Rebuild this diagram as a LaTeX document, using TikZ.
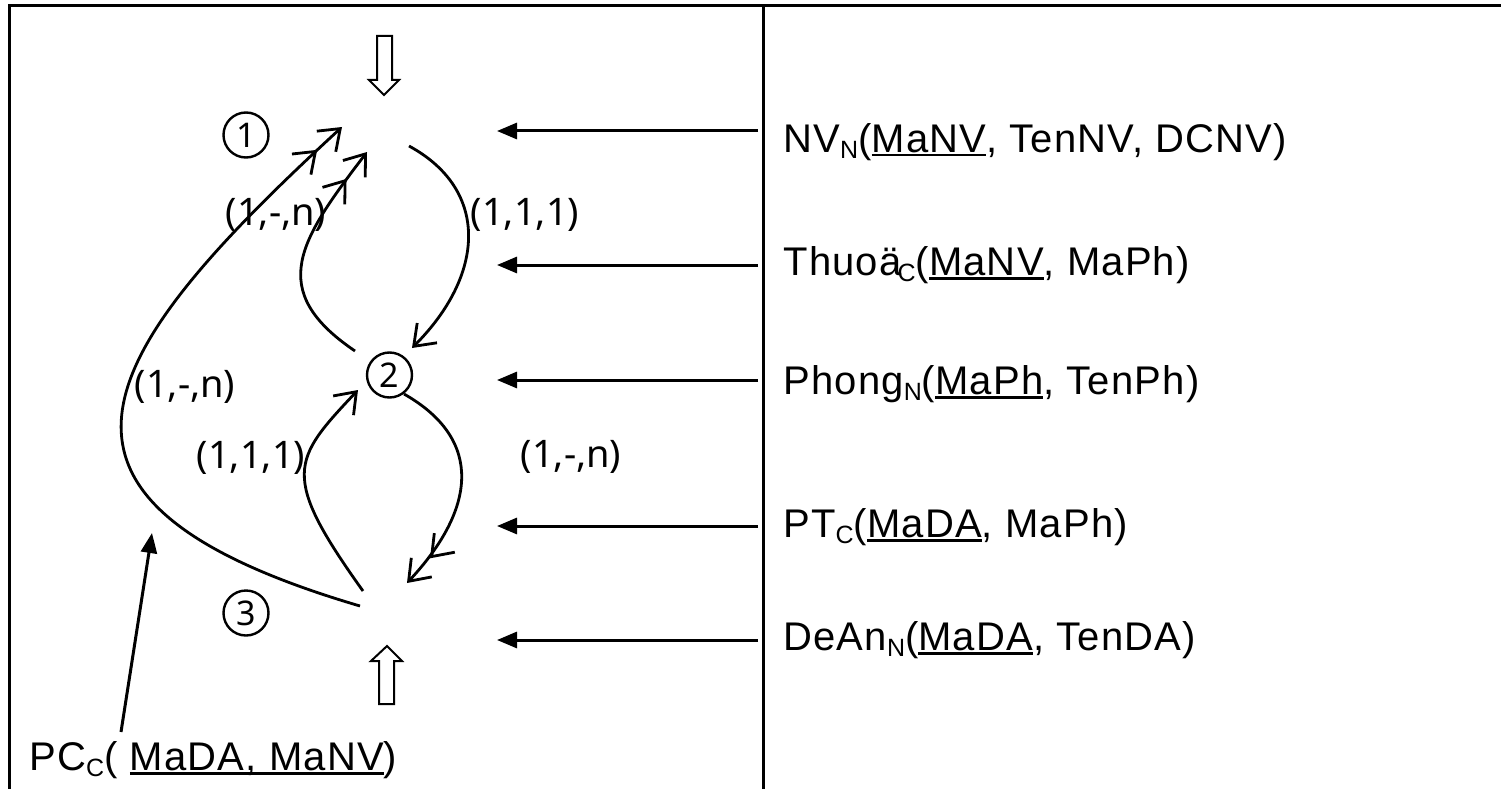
\documentclass[tikz,border=0pt]{standalone}
\usepackage{fontspec}
\setmainfont{Liberation Sans}[LetterSpace=3]
\newfontfamily\lblfont{Noto Sans}
\usetikzlibrary{arrows.meta}
\newcommand{\ulx}[1]{\setbox0\hbox{#1}\rlap{\rule[-4.5pt]{\wd0}{2.2pt}}\box0}
\newcommand{\subx}[1]{\raisebox{-6pt}{\fontsize{25}{25}\selectfont #1}}
\begin{document}
\begin{tikzpicture}[x=1pt,y=-1pt,line width=2.8pt,
  rel/.style={font=\fontsize{40}{48}\selectfont, anchor=base west, inner sep=0pt},
  card/.style={font=\lblfont\fontsize{38}{46}\selectfont, inner sep=0pt},
  num/.style={circle, draw, line width=2.4pt, minimum size=45pt, inner sep=0pt, font=\lblfont\fontsize{34}{34}\selectfont},
  ptr/.style={line width=3pt, -{Triangle[length=20pt,width=16pt]}},
  one/.style={-{Straight Barb[length=19pt,width=28pt]}},
  many/.style={-{Straight Barb[length=19pt,width=28pt,sep=11pt]Straight Barb[length=19pt,width=28pt]}},
  hollow/.style={draw, line width=2pt, fill=white}]
\useasboundingbox (0,0) rectangle (1501,789);
% frame
\draw[line width=3pt] (9,789) -- (9,6) -- (1501,6);
\draw[line width=3pt] (763,6) -- (763,789);

% hollow arrows
\draw[hollow] (377,36) -- (392,36) -- (392,80) -- (399,80) -- (384,95) -- (369,80) -- (377,80) -- cycle;
\draw[hollow] (387,646) -- (402,661) -- (394,661) -- (394,704) -- (379,704) -- (379,661) -- (371,661) -- cycle;

% circled numbers
\node[num] (n1) at (246,135) {1};
\node[num] (n2) at (389.5,375) {2};
\node[num] (n3) at (246,613) {3};

% cardinality labels
\node[card] (k1) at (276,215) {(1,-,n)};
\node[card] (k2) at (525,215) {(1,1,1)};
\node[card] (k3) at (185,387) {(1,-,n)};
\node[card] (k4) at (251,458) {(1,1,1)};
\node[card] (k5) at (571,457) {(1,-,n)};

% curve end points
\coordinate (a1) at (342,127);
\coordinate (a1b) at (367,152);
\coordinate (s3a) at (360,606);
\coordinate (s2a) at (355,351);
\coordinate (s1) at (409,146);
\coordinate (t2a) at (412,348);
\coordinate (s3b) at (363,591);
\coordinate (t2b) at (358,390);
\coordinate (s2b) at (404,394);
\coordinate (t3) at (407,583);

\draw[many] (s3a) .. controls (0,500) and (92,357) .. (a1);
\draw[many] (s2a) .. controls (265,290) and (300,240) .. (a1b);
\draw[one] (s1) .. controls (490,190) and (485,275) .. (t2a);
\draw[one] (s3b) .. controls (280,475) and (292,460) .. (t2b);
\draw[many] (s2b) .. controls (485,440) and (475,510) .. (t3);

% relation texts
\node[rel] (r1) at (782,152) {NV\subx{N}(\ulx{MaNV}, TenNV, DCNV)};
\node[rel] (r2) at (782,275) {Thuoä\kern-4pt\subx{C}(\ulx{MaNV}, MaPh)};
\node[rel] (r3) at (782,394) {Phong\subx{N}(\ulx{MaPh}, TenPh)};
\node[rel] (r4) at (782,537) {PT\subx{C}(\ulx{MaDA}, MaPh)};
\node[rel] (r5) at (782,650) {DeAn\subx{N}(\ulx{MaDA}, TenDA)};
\node[rel] (pc) at (28,770) {PC\subx{C}( \ulx{MaDA, MaNV})};

% pointer arrows
\foreach \i/\y in {1/131,2/265,3/380,4/526,5/640}{
  \coordinate (ps\i) at (758,\y);
  \coordinate (pt\i) at (497,\y);
  \draw[ptr] (ps\i) -- (pt\i);
}
\coordinate (pcs) at (121,732);
\coordinate (pct) at (152,533);
\draw[ptr] (pcs) -- (pct);
\end{tikzpicture}
\end{document}
